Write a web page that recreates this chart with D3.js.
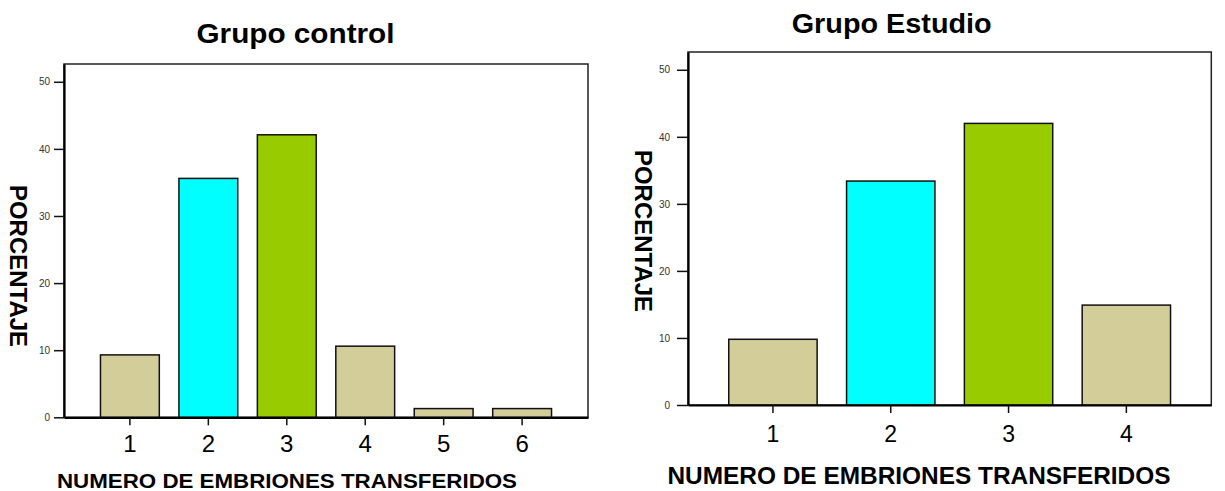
<!DOCTYPE html>
<html>
<head>
<meta charset="utf-8">
<script src="https://cdnjs.cloudflare.com/ajax/libs/d3/7.8.5/d3.min.js"></script>
<style>
  body { margin: 0; background: #fff; }
  svg { display: block; font-family: "Liberation Sans", Arial, sans-serif; }
  .ytick text { fill: #333; }
</style>
</head>
<body>
<svg id="chart" width="1225" height="491"></svg>
<script>
// data
var controlCats = ["1", "2", "3", "4", "5", "6"];
var controlPct = [9.3, 35.6, 42.1, 10.6, 1.3, 1.3];
var estudioCats = ["1", "2", "3", "4"];
var estudioPct = [9.8, 33.4, 42.0, 14.9];
var yTicks = [0, 10, 20, 30, 40, 50];
var tan = "#d3ce99", cyan = "#00ffff", green = "#99cc00";
var controlColors = [tan, cyan, green, tan, tan, tan];
var estudioColors = [tan, cyan, green, tan];

var svg = d3.select("#chart");

function drawPanel(p) {
  var width = p.right - p.left,
      height = p.bottom - p.top;

  var x = d3.scaleBand().domain(p.cats).range([0, width])
    .paddingInner(0.25).paddingOuter(p.outer);
  var y = d3.scaleLinear().domain([0, 52.65]).range([height, 0]);

  var g = svg.append("g")
    .attr("transform", "translate(" + p.left + "," + p.top + ")");

  // frame
  g.append("rect")
    .attr("width", width).attr("height", height)
    .attr("fill", "none").attr("stroke", "#222").attr("stroke-width", 1.5);

  var data = p.cats.map(function(c, i) { return {cat: c, v: p.vals[i], col: p.colors[i]}; });

  g.selectAll(".bar")
    .data(data)
    .enter().append("rect")
      .attr("class", "bar")
      .attr("x", function(d) { return x(d.cat); })
      .attr("y", function(d) { return y(d.v); })
      .attr("width", x.bandwidth())
      .attr("height", function(d) { return height - y(d.v); })
      .attr("fill", function(d) { return d.col; })
      .attr("stroke", "#111")
      .attr("stroke-width", 1.5);

  var ya = g.append("g")
    .attr("class", "ytick")
    .call(d3.axisLeft(y).tickValues(yTicks).tickSize(p.ytickSize).tickSizeOuter(0).tickPadding(p.ytickPad))
    .attr("font-family", "Liberation Sans, Arial, sans-serif");
  ya.selectAll("text").style("font-size", "10px");
  ya.selectAll("line").attr("stroke", "#111").attr("stroke-width", 1.5);
  ya.select(".domain").attr("stroke", "#000").attr("stroke-width", 2.2);

  var xa = g.append("g")
    .attr("transform", "translate(0," + height + ")")
    .call(d3.axisBottom(x).tickSize(8).tickSizeOuter(0).tickPadding(p.xtickPad))
    .attr("font-family", "Liberation Sans, Arial, sans-serif");
  xa.selectAll("text").style("font-size", p.xtickFont + "px").attr("fill", "#000");
  xa.selectAll("line").attr("stroke", "#111").attr("stroke-width", 1.5);
  xa.select(".domain").attr("stroke", "#000").attr("stroke-width", 2.2);

  svg.append("text")
    .attr("x", p.titleX).attr("y", p.titleY)
    .attr("text-anchor", "middle")
    .attr("font-weight", "bold")
    .attr("font-size", p.titleFont)
    .attr("textLength", p.titleLen).attr("lengthAdjust", "spacingAndGlyphs")
    .text(p.title);

  svg.append("text")
    .attr("x", p.xlabX).attr("y", p.xlabY)
    .attr("text-anchor", "middle")
    .attr("font-weight", "bold")
    .attr("font-size", p.xlabFont)
    .attr("textLength", p.xlabLen).attr("lengthAdjust", "spacingAndGlyphs")
    .text("NUMERO DE EMBRIONES TRANSFERIDOS");

  svg.append("text")
    .attr("transform", "translate(" + p.ylabX + "," + p.ylabY + ") rotate(90)")
    .attr("text-anchor", "middle")
    .attr("font-weight", "bold")
    .attr("font-size", 24)
    .attr("textLength", 162).attr("lengthAdjust", "spacingAndGlyphs")
    .text("PORCENTAJE");
}

drawPanel({
  cats: controlCats, vals: controlPct, colors: controlColors,
  left: 64, right: 588, top: 64, bottom: 417.3, outer: 0.465,
  ytickSize: 10, ytickPad: 4, xtickPad: 10, xtickFont: 24,
  title: "Grupo control", titleX: 295.5, titleY: 43, titleFont: 28, titleLen: 198,
  xlabX: 287, xlabY: 488, xlabFont: 21, xlabLen: 460,
  ylabX: 10, ylabY: 266
});

drawPanel({
  cats: estudioCats, vals: estudioPct, colors: estudioColors,
  left: 688, right: 1211.3, top: 52, bottom: 405, outer: 0.346,
  ytickSize: 11, ytickPad: 7, xtickPad: 12.5, xtickFont: 23,
  title: "Grupo Estudio", titleX: 891.7, titleY: 32.5, titleFont: 27, titleLen: 200,
  xlabX: 919, xlabY: 484.3, xlabFont: 24, xlabLen: 503,
  ylabX: 635, ylabY: 231
});
</script>
</body>
</html>
